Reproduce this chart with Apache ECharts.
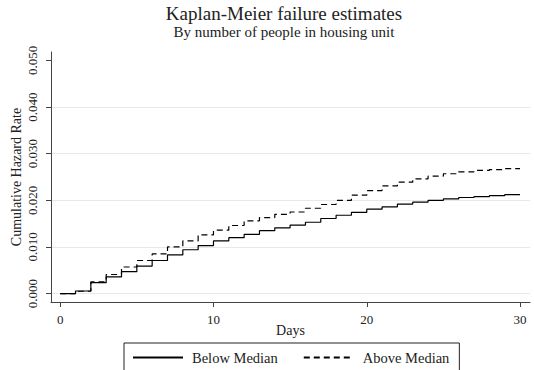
<!DOCTYPE html>
<html>
<head>
<meta charset="utf-8">
<script src="https://cdn.jsdelivr.net/npm/echarts@6/dist/echarts.min.js"></script>
<style>
  html, body { margin: 0; padding: 0; background: #fff; }
  #chart { width: 534px; height: 370px; }
</style>
</head>
<body>
<div id="chart"></div>
<script>
// Follow-up day (0..30)
const days = [0, 1, 2, 3, 4, 5, 6, 7, 8, 9, 10, 11, 12, 13, 14, 15,
              16, 17, 18, 19, 20, 21, 22, 23, 24, 25, 26, 27, 28, 29, 30];

// Kaplan-Meier failure estimate, households below median size
const belowMedian = [0, 0.00056, 0.00235, 0.0036, 0.0047, 0.0059, 0.0071, 0.0083,
                     0.0094, 0.0103, 0.0113, 0.0120, 0.0127, 0.0135, 0.0141, 0.0147,
                     0.0153, 0.0161, 0.0168, 0.0174, 0.0181, 0.0186, 0.0192, 0.0196,
                     0.0200, 0.0203, 0.0206, 0.0208, 0.0210, 0.0212, 0.0213];

// Kaplan-Meier failure estimate, households above median size
const aboveMedian = [0, 0.0005, 0.0025, 0.0041, 0.0057, 0.0071, 0.0085, 0.0100,
                     0.0113, 0.0126, 0.0136, 0.0146, 0.0156, 0.0163, 0.0170, 0.0175,
                     0.0183, 0.0191, 0.0200, 0.0211, 0.0221, 0.0231, 0.0239, 0.0246,
                     0.0252, 0.0257, 0.0261, 0.0264, 0.0266, 0.0268, 0.0268];

// Axis ticks
const xTicks = [0, 10, 20, 30];
const yTicks = [0, 0.01, 0.02, 0.03, 0.04, 0.05];

const serif = 'Liberation Serif';
const pairs = (ys) => days.map((d, i) => [d, ys[i]]);

// SVG keeps every small step of the curves (no segment thinning)
const chart = echarts.init(document.getElementById('chart'), null, { renderer: 'svg' });
chart.setOption({
  animation: false,
  backgroundColor: '#ffffff',
  title: [
    {
      text: 'Kaplan-Meier failure estimates',
      left: 284, top: 4, textAlign: 'center', padding: 0,
      textStyle: { fontFamily: serif, fontSize: 19, lineHeight: 19, fontWeight: 'normal', color: '#222' }
    },
    {
      text: 'By number of people in housing unit',
      left: 284, top: 24, textAlign: 'center', padding: 0,
      textStyle: { fontFamily: serif, fontSize: 15, lineHeight: 15, fontWeight: 'normal', color: '#222' }
    }
  ],
  grid: { left: 51, right: 4, top: 52, bottom: 68, containLabel: false, outerBoundsMode: 'none' },
  xAxis: {
    type: 'value',
    min: -0.6, max: 30.65,
    name: 'Days',
    nameLocation: 'middle',
    nameGap: 21,
    nameMoveOverlap: false,
    nameTextStyle: { fontFamily: serif, fontSize: 14, color: '#222' },
    axisLine: { show: true, onZero: false, lineStyle: { color: '#444', width: 1 } },
    axisTick: { show: true, length: 5, customValues: xTicks, lineStyle: { color: '#444' } },
    axisLabel: { customValues: xTicks, margin: 11, fontFamily: serif, fontSize: 13, color: '#222' },
    splitLine: { show: false }
  },
  yAxis: {
    type: 'value',
    min: -0.0018, max: 0.0518,
    name: 'Cumulative Hazard Rate',
    nameLocation: 'middle',
    nameGap: 28,
    nameMoveOverlap: false,
    nameTextStyle: { fontFamily: serif, fontSize: 14, color: '#222' },
    axisLine: { show: true, onZero: false, lineStyle: { color: '#444', width: 1 } },
    axisTick: { show: true, length: 5, customValues: yTicks, lineStyle: { color: '#444' } },
    axisLabel: {
      customValues: yTicks, rotate: 90, margin: 12,
      fontFamily: serif, fontSize: 13, color: '#222',
      formatter: (v) => v.toFixed(3)
    },
    splitLine: {
      show: true,
      lineStyle: { color: ['#e8e8e8', '#e8e8e8', '#e8e8e8', '#e8e8e8', '#e8e8e8', 'rgba(0,0,0,0)'], width: 1 }
    }
  },
  legend: {
    left: 124, top: 343,
    padding: [7, 10, 20, 8],
    itemGap: 25,
    itemWidth: 50, itemHeight: 14,
    borderColor: '#222', borderWidth: 1,
    data: ['Below Median', 'Above Median'],
    textStyle: { fontFamily: serif, fontSize: 14.5, color: '#222', padding: [0, 0, 0, 4] }
  },
  series: [
    {
      name: 'Below Median',
      type: 'line',
      step: 'end',
      symbol: 'none',
      data: pairs(belowMedian),
      lineStyle: { color: '#000', width: 1.2 },
      itemStyle: { color: 'rgba(0,0,0,0)', borderWidth: 0 }
    },
    {
      name: 'Above Median',
      type: 'line',
      step: 'end',
      symbol: 'none',
      data: pairs(aboveMedian),
      lineStyle: { color: '#000', width: 1.2, type: [6, 4] },
      itemStyle: { color: 'rgba(0,0,0,0)', borderWidth: 0 }
    }
  ]
});
</script>
</body>
</html>
